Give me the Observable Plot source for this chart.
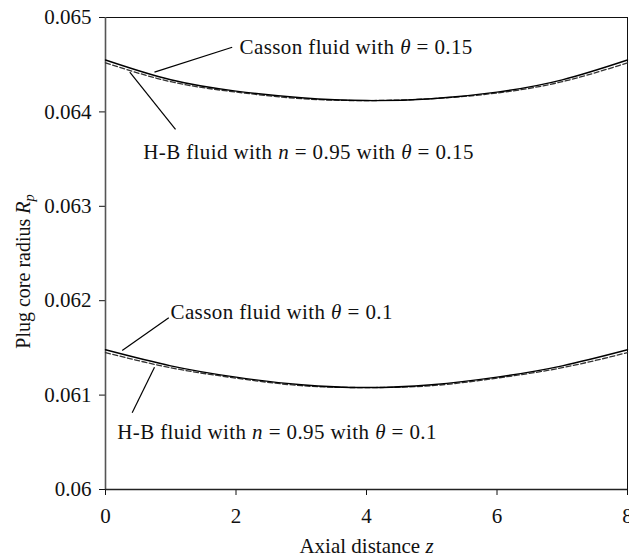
<!DOCTYPE html>
<html><head><meta charset="utf-8">
<script src="https://cdn.jsdelivr.net/npm/d3@7"></script>
<script src="https://cdn.jsdelivr.net/npm/@observablehq/plot@0.6"></script>
<style>
body{margin:0;background:#fff}
#chart svg, #chart svg text, #chart svg tspan { font-family: 'Liberation Serif', 'Times New Roman', serif !important; }
#chart svg .annot text { letter-spacing: 0.4px; }
</style>
</head><body><div id="chart"></div>
<script>
// Axial distance z
const z = [0, 1, 2, 3, 4, 5, 6, 7, 8];
// Plug core radius Rp
const cassonTheta015 = [0.06455, 0.06434, 0.06422, 0.06415, 0.06412, 0.06414, 0.06421, 0.06434, 0.06455];
const hbTheta015     = [0.06452, 0.06432, 0.06421, 0.06414, 0.06412, 0.06414, 0.06420, 0.06432, 0.06452];
const cassonTheta01  = [0.06148, 0.06131, 0.06119, 0.06111, 0.06108, 0.06111, 0.06119, 0.06131, 0.06148];
const hbTheta01      = [0.06145, 0.06129, 0.06118, 0.06110, 0.06108, 0.06110, 0.06118, 0.06129, 0.06145];

const xTicks = [0, 2, 4, 6, 8];
const yTicks = [0.06, 0.061, 0.062, 0.063, 0.064, 0.065];

// annotations (in data units)
const labelText = ["Casson fluid with θ = 0.15", "H-B fluid with n = 0.95 with θ = 0.15",
                   "Casson fluid with θ = 0.1", "H-B fluid with n = 0.95 with θ = 0.1"];
const labelZ  = [2.054, 0.578, 0.996, 0.179];
const labelRp = [0.064682, 0.063573, 0.061878, 0.060607];
const leaderZ1  = [1.942, 1.073, 0.970, 0.409];
const leaderRp1 = [0.064685, 0.063814, 0.061819, 0.060813];
const leaderZ2  = [0.751, 0.372, 0.256, 0.751];
const leaderRp2 = [0.064421, 0.064421, 0.061472, 0.061296];

const toRows = (ys) => z.map((v, i) => ({z: v, rp: ys[i]}));
const labels = labelText.map((t, i) => ({t, z: labelZ[i], rp: labelRp[i]}));
const leaders = labelText.map((t, i) => ({z1: leaderZ1[i], rp1: leaderRp1[i], z2: leaderZ2[i], rp2: leaderRp2[i]}));

const plot = Plot.plot({
  width: 629, height: 558,
  marginLeft: 105, marginRight: 2, marginTop: 17, marginBottom: 69,
  style: "font-family: 'Liberation Serif', serif; font-size: 20px; color: #111; background: #fff; overflow: visible;",
  x: {domain: [0, 8]},
  y: {domain: [0.06, 0.065]},
  marks: [
    Plot.frame({stroke: "#111", strokeWidth: 1}),
    Plot.axisX({ticks: xTicks, tickSize: 6, tickPadding: 13, tickFormat: d => String(d), fontSize: 21,
      label: "Axial distance z", labelAnchor: "center", labelArrow: "none", labelOffset: 63}),
    Plot.axisY({ticks: yTicks, tickSize: 6, tickPadding: 8, tickFormat: d => String(+d.toFixed(3)), fontSize: 21, label: null}),
    Plot.ruleX([0], {stroke: "#555", strokeWidth: 1.6}),
    Plot.ruleY([0.06], {stroke: "#222", strokeWidth: 1.3}),
    Plot.line(toRows(hbTheta015), {x: "z", y: "rp", stroke: "#333", strokeWidth: 1.3, strokeDasharray: "5,2.5", curve: "natural"}),
    Plot.line(toRows(cassonTheta015), {x: "z", y: "rp", stroke: "#000", strokeWidth: 1.4, curve: "natural"}),
    Plot.line(toRows(hbTheta01), {x: "z", y: "rp", stroke: "#333", strokeWidth: 1.3, strokeDasharray: "5,2.5", curve: "natural"}),
    Plot.line(toRows(cassonTheta01), {x: "z", y: "rp", stroke: "#000", strokeWidth: 1.4, curve: "natural"}),
    Plot.link(leaders, {x1: "z1", y1: "rp1", x2: "z2", y2: "rp2", stroke: "#000", strokeWidth: 1.2}),
    Plot.text(labels, {x: "z", y: "rp", text: "t", textAnchor: "start", lineAnchor: "middle", fontSize: 21, fill: "#111", className: "annot"}),
    Plot.text(["Plug core radius Rp"], {frameAnchor: "left", rotate: -90, textAnchor: "middle", lineAnchor: "middle", dx: -82, dy: 18, fontSize: 20, fill: "#111", className: "ylab"})
  ]
});

document.getElementById("chart").appendChild(plot);

const svg = d3.select(plot);
svg.selectAll(".annot text").each(function() {
  const s = this.textContent;
  this.innerHTML = s.replace(/θ/g, '<tspan font-style="italic">θ</tspan>')
                    .replace(/ n =/g, ' <tspan font-style="italic">n</tspan> =');
});
svg.selectAll(".ylab text").each(function() {
  this.innerHTML = 'Plug core radius <tspan font-style="italic">R</tspan><tspan font-style="italic" font-size="0.72em" dy="0.3em">p</tspan>';
});
svg.selectAll("[aria-label='x-axis label'] text").each(function() {
  this.innerHTML = 'Axial distance <tspan font-style="italic">z</tspan>';
});
</script>
</body></html>
